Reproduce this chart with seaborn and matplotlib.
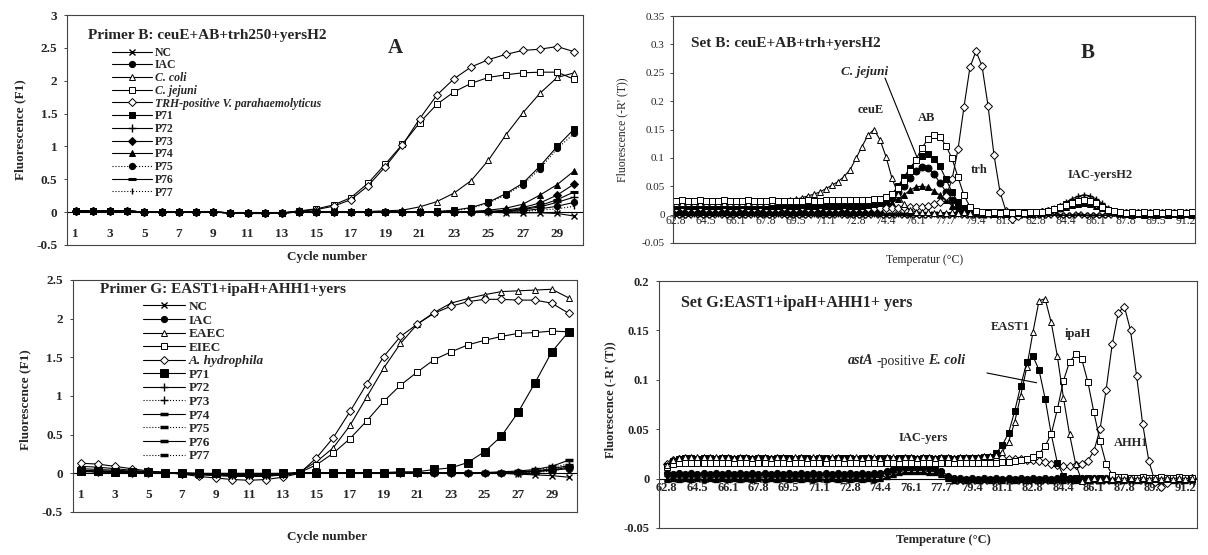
import numpy as np
import pandas as pd
import matplotlib
matplotlib.use("Agg")
import matplotlib.pyplot as plt
import seaborn as sns

sns.set_style("white")
plt.rcParams["font.family"] = ["Liberation Serif", "DejaVu Serif"]

W, H = 1208, 555

# ---------------- amplification data (cycles 1..30) ----------------
cycles = list(range(1, 31))
cycle_ticks = list(range(1, 30, 2))

# primer set B
amp_b_nc = [0.02, 0.02, 0.02, 0.02, 0.00, 0.00, 0.00, 0.00, 0.00, -0.01, -0.02, -0.02, -0.01, 0.00, 0.00,
            0.00, 0.00, 0.00, 0.00, 0.00, 0.00, 0.00, 0.00, 0.00, 0.00, -0.01, -0.01, -0.01, -0.02, -0.06]
amp_b_iac = [0.02, 0.02, 0.02, 0.02, 0.00, 0.00, 0.00, 0.00, 0.00, -0.01, -0.02, -0.02, -0.01, 0.00, 0.00,
             0.00, 0.00, 0.00, 0.00, 0.00, 0.00, 0.00, 0.00, 0.00, 0.01, 0.01, 0.02, 0.05, 0.09, 0.15]
amp_b_coli = [0.01, 0.01, 0.01, 0.01, 0.00, 0.00, 0.00, 0.00, 0.00, -0.01, -0.01, -0.01, -0.01, 0.00, 0.00,
              0.00, 0.00, 0.01, 0.02, 0.03, 0.08, 0.16, 0.29, 0.48, 0.79, 1.17, 1.51, 1.81, 2.05, 2.12]
amp_b_jejuni = [0.01, 0.01, 0.01, 0.01, 0.00, 0.00, 0.00, 0.00, 0.00, -0.01, -0.01, -0.01, -0.01, 0.02, 0.05,
                0.11, 0.22, 0.44, 0.73, 1.03, 1.36, 1.64, 1.83, 1.96, 2.05, 2.09, 2.12, 2.13, 2.13, 2.02]
amp_b_trh = [0.01, 0.01, 0.01, 0.01, 0.00, 0.00, 0.00, 0.00, 0.00, -0.01, -0.01, -0.01, -0.01, 0.01, 0.04,
             0.09, 0.19, 0.40, 0.69, 1.02, 1.42, 1.78, 2.03, 2.21, 2.32, 2.40, 2.46, 2.48, 2.52, 2.44]
amp_b_p71 = [0.02, 0.02, 0.02, 0.02, 0.00, 0.00, 0.00, 0.00, 0.00, -0.01, -0.02, -0.02, -0.01, 0.00, 0.00,
             0.00, 0.00, 0.00, 0.00, 0.00, 0.00, 0.01, 0.03, 0.07, 0.15, 0.28, 0.44, 0.70, 1.00, 1.27]
amp_b_p72 = [0.02, 0.02, 0.02, 0.02, 0.00, 0.00, 0.00, 0.00, 0.00, -0.01, -0.02, -0.02, -0.01, 0.00, 0.00,
             0.00, 0.00, 0.00, 0.00, 0.00, 0.00, 0.00, 0.00, 0.00, 0.00, 0.01, 0.04, 0.08, 0.15, 0.23]
amp_b_p73 = [0.02, 0.02, 0.02, 0.02, 0.00, 0.00, 0.00, 0.00, 0.00, -0.01, -0.02, -0.02, -0.01, 0.00, 0.00,
             0.00, 0.00, 0.00, 0.00, 0.00, 0.00, 0.00, 0.00, 0.00, 0.01, 0.03, 0.07, 0.14, 0.26, 0.43]
amp_b_p74 = [0.02, 0.02, 0.02, 0.02, 0.00, 0.00, 0.00, 0.00, 0.00, -0.01, -0.02, -0.02, -0.01, 0.00, 0.00,
             0.00, 0.00, 0.00, 0.00, 0.00, 0.00, 0.00, 0.00, 0.01, 0.03, 0.06, 0.12, 0.26, 0.42, 0.63]
amp_b_p75 = [0.02, 0.02, 0.02, 0.02, 0.00, 0.00, 0.00, 0.00, 0.00, -0.01, -0.02, -0.02, -0.01, 0.00, 0.00,
             0.00, 0.00, 0.00, 0.00, 0.00, 0.00, 0.01, 0.02, 0.06, 0.14, 0.26, 0.42, 0.66, 0.97, 1.20]
amp_b_p76 = [0.02, 0.02, 0.02, 0.02, 0.00, 0.00, 0.00, 0.00, 0.00, -0.01, -0.02, -0.02, -0.01, 0.00, 0.00,
             0.00, 0.00, 0.00, 0.00, 0.00, 0.00, 0.00, 0.00, 0.00, 0.00, 0.02, 0.05, 0.10, 0.19, 0.31]
amp_b_p77 = [0.02, 0.02, 0.02, 0.02, 0.00, 0.00, 0.00, 0.00, 0.00, -0.01, -0.02, -0.02, -0.01, 0.00, 0.00,
             0.00, 0.00, 0.00, 0.00, 0.00, 0.00, 0.00, 0.00, 0.00, 0.00, 0.00, 0.01, 0.03, 0.05, 0.09]

# primer set G
amp_g_nc = [0.02, 0.02, 0.01, 0.01, 0.01, 0.00, 0.00, -0.01, -0.01, -0.01, -0.01, -0.01, -0.01, 0.00, 0.00,
            0.00, 0.00, 0.00, 0.00, 0.00, 0.00, 0.00, 0.00, 0.00, 0.00, 0.00, -0.01, -0.02, -0.03, -0.05]
amp_g_iac = [0.04, 0.03, 0.03, 0.02, 0.02, 0.01, 0.00, 0.00, -0.01, -0.01, -0.01, -0.01, 0.00, 0.00, 0.00,
             0.00, 0.00, 0.00, 0.00, 0.00, 0.00, 0.00, 0.00, 0.00, 0.01, 0.01, 0.02, 0.03, 0.04, 0.06]
amp_g_eaec = [0.09, 0.08, 0.06, 0.04, 0.02, 0.01, -0.01, -0.02, -0.03, -0.04, -0.04, -0.04, -0.02, 0.02, 0.15,
              0.33, 0.62, 0.99, 1.36, 1.68, 1.93, 2.08, 2.20, 2.26, 2.31, 2.35, 2.36, 2.37, 2.38, 2.27]
amp_g_eiec = [0.06, 0.05, 0.04, 0.03, 0.02, 0.01, 0.00, -0.01, -0.02, -0.03, -0.03, -0.03, -0.02, 0.01, 0.11,
              0.26, 0.45, 0.68, 0.93, 1.14, 1.31, 1.47, 1.57, 1.66, 1.72, 1.77, 1.81, 1.82, 1.84, 1.83]
amp_g_ahyd = [0.13, 0.12, 0.09, 0.06, 0.03, 0.01, -0.01, -0.04, -0.06, -0.08, -0.09, -0.08, -0.05, 0.00, 0.20,
              0.46, 0.80, 1.16, 1.51, 1.77, 1.93, 2.07, 2.16, 2.22, 2.25, 2.25, 2.24, 2.24, 2.20, 2.07]
amp_g_p71 = [0.03, 0.03, 0.02, 0.02, 0.02, 0.01, 0.01, 0.00, 0.00, 0.00, 0.00, 0.00, 0.00, 0.01, 0.01,
             0.01, 0.01, 0.01, 0.01, 0.02, 0.02, 0.05, 0.07, 0.14, 0.28, 0.48, 0.79, 1.17, 1.57, 1.83]
amp_g_p72 = [0.03, 0.02, 0.02, 0.01, 0.01, 0.00, 0.00, -0.01, -0.01, -0.02, -0.02, -0.02, -0.01, 0.00, 0.00,
             0.00, 0.00, 0.00, 0.00, 0.00, 0.00, 0.00, 0.00, 0.00, 0.00, 0.00, 0.01, 0.03, 0.06, 0.10]
amp_g_p73 = [0.03, 0.02, 0.02, 0.01, 0.01, 0.00, 0.00, -0.01, -0.01, -0.02, -0.02, -0.02, -0.01, 0.00, 0.00,
             0.00, 0.00, 0.00, 0.00, 0.00, 0.00, 0.00, 0.00, 0.00, 0.00, 0.01, 0.02, 0.04, 0.08, 0.12]
amp_g_p74 = [0.03, 0.02, 0.02, 0.01, 0.01, 0.00, 0.00, -0.01, -0.01, -0.02, -0.02, -0.02, -0.01, 0.00, 0.00,
             0.01, 0.01, 0.01, 0.01, 0.01, 0.01, 0.01, 0.01, 0.01, 0.01, 0.02, 0.03, 0.05, 0.09, 0.17]
amp_g_p75 = [0.03, 0.02, 0.02, 0.01, 0.01, 0.00, 0.00, -0.01, -0.01, -0.02, -0.02, -0.02, -0.01, 0.00, 0.00,
             0.00, 0.00, 0.00, 0.00, 0.00, 0.00, 0.00, 0.00, 0.00, 0.00, 0.00, 0.01, 0.02, 0.05, 0.09]
amp_g_p76 = [0.03, 0.02, 0.02, 0.01, 0.01, 0.00, 0.00, -0.01, -0.01, -0.02, -0.02, -0.02, -0.01, 0.00, 0.00,
             0.00, 0.00, 0.00, 0.00, 0.00, 0.00, 0.00, 0.00, 0.00, 0.00, 0.00, 0.01, 0.02, 0.04, 0.08]
amp_g_p77 = [0.03, 0.02, 0.02, 0.01, 0.01, 0.00, 0.00, -0.01, -0.01, -0.02, -0.02, -0.02, -0.01, 0.00, 0.00,
             0.00, 0.00, 0.00, 0.00, 0.00, 0.00, 0.00, 0.00, 0.00, 0.00, 0.00, 0.00, 0.01, 0.03, 0.07]

# ---------------- melt curve data (87 temperature steps) ----------------
melt_ticks = ["62.8", "64.5", "66.1", "67.8", "69.5", "71.1", "72.8", "74.4", "76.1",
              "77.7", "79.4", "81.1", "82.8", "84.4", "86.1", "87.8", "89.5", "91.2"]

# set B
coli_melt = [
    0.020, 0.021, 0.020, 0.020, 0.021, 0.020, 0.020, 0.021, 0.020, 0.020,
    0.020, 0.021, 0.020, 0.021, 0.021, 0.021, 0.022, 0.022, 0.023, 0.025,
    0.027, 0.030, 0.033, 0.036, 0.040, 0.046, 0.052, 0.058, 0.067, 0.079,
    0.099, 0.120, 0.140, 0.150, 0.132, 0.102, 0.064, 0.037, 0.018, 0.008,
    0.005, 0.004, 0.004, 0.003, 0.004, 0.003, 0.004, 0.003, 0.004, 0.003,
    0.004, 0.003, 0.004, 0.003, 0.003, 0.004, 0.003, 0.004, 0.003, 0.004,
    0.004, 0.005, 0.007, 0.010, 0.014, 0.018, 0.022, 0.025, 0.026, 0.025,
    0.021, 0.015, 0.010, 0.006, 0.004, 0.003, 0.004, 0.003, 0.004, 0.003,
    0.004, 0.003, 0.004, 0.003, 0.004, 0.003, 0.004]
jejuni_melt = [
    0.024, 0.025, 0.024, 0.024, 0.025, 0.024, 0.024, 0.024, 0.025, 0.024,
    0.024, 0.024, 0.025, 0.024, 0.024, 0.024, 0.025, 0.024, 0.024, 0.024,
    0.024, 0.024, 0.025, 0.024, 0.024, 0.025, 0.025, 0.025, 0.025, 0.025,
    0.025, 0.026, 0.026, 0.027, 0.028, 0.031, 0.037, 0.047, 0.060, 0.077,
    0.097, 0.118, 0.133, 0.141, 0.137, 0.121, 0.099, 0.066, 0.034, 0.014,
    0.006, 0.004, 0.003, 0.004, 0.003, 0.004, 0.003, 0.004, 0.003, 0.004,
    0.004, 0.005, 0.007, 0.010, 0.013, 0.017, 0.021, 0.024, 0.025, 0.024,
    0.020, 0.014, 0.009, 0.006, 0.004, 0.003, 0.004, 0.003, 0.004, 0.003,
    0.004, 0.003, 0.004, 0.003, 0.004, 0.003, 0.004]
trh_melt = [
    0.012, 0.013, 0.012, 0.012, 0.013, 0.012, 0.012, 0.012, 0.013, 0.012,
    0.012, 0.013, 0.012, 0.012, 0.013, 0.012, 0.012, 0.012, 0.013, 0.012,
    0.012, 0.013, 0.012, 0.012, 0.013, 0.012, 0.012, 0.012, 0.013, 0.012,
    0.012, 0.012, 0.012, 0.012, 0.012, 0.012, 0.012, 0.012, 0.013, 0.013,
    0.013, 0.014, 0.016, 0.018, 0.022, 0.032, 0.062, 0.115, 0.190, 0.260,
    0.288, 0.262, 0.192, 0.105, 0.040, 0.006, -0.008, -0.002, 0.002, 0.003,
    0.003, 0.004, 0.006, 0.009, 0.013, 0.017, 0.021, 0.024, 0.025, 0.024,
    0.019, 0.014, 0.009, 0.005, 0.003, 0.003, 0.002, 0.003, 0.002, 0.003,
    0.002, 0.003, 0.002, 0.003, 0.002, 0.003, 0.002]
p71_melt_b = [
    0.016, 0.017, 0.016, 0.016, 0.017, 0.016, 0.016, 0.016, 0.017, 0.016,
    0.016, 0.017, 0.016, 0.016, 0.017, 0.016, 0.016, 0.016, 0.017, 0.016,
    0.016, 0.017, 0.016, 0.016, 0.017, 0.016, 0.016, 0.016, 0.017, 0.016,
    0.016, 0.016, 0.017, 0.018, 0.020, 0.027, 0.036, 0.050, 0.066, 0.082,
    0.096, 0.104, 0.106, 0.098, 0.085, 0.062, 0.040, 0.022, 0.011, 0.006,
    0.004, 0.003, 0.004, 0.003, 0.004, 0.003, 0.004, 0.003, 0.004, 0.003,
    0.004, 0.005, 0.007, 0.010, 0.014, 0.018, 0.021, 0.023, 0.024, 0.023,
    0.020, 0.014, 0.009, 0.005, 0.003, 0.003, 0.002, 0.003, 0.002, 0.003,
    0.002, 0.003, 0.002, 0.003, 0.002, 0.003, 0.002]
p73_melt_b = [
    0.008, 0.009, 0.008, 0.008, 0.009, 0.008, 0.008, 0.009, 0.008, 0.008,
    0.008, 0.009, 0.008, 0.008, 0.009, 0.008, 0.008, 0.009, 0.008, 0.008,
    0.008, 0.009, 0.008, 0.008, 0.009, 0.008, 0.008, 0.009, 0.008, 0.008,
    0.008, 0.009, 0.009, 0.010, 0.014, 0.020, 0.029, 0.039, 0.051, 0.065,
    0.077, 0.084, 0.082, 0.071, 0.056, 0.040, 0.025, 0.013, 0.006, 0.004,
    0.003, 0.002, 0.003, 0.002, 0.003, 0.002, 0.003, 0.002, 0.003, 0.002,
    0.003, 0.004, 0.006, 0.009, 0.012, 0.016, 0.019, 0.021, 0.022, 0.021,
    0.018, 0.013, 0.008, 0.005, 0.003, 0.002, 0.001, 0.002, 0.001, 0.002,
    0.001, 0.002, 0.001, 0.002, 0.001, 0.002, 0.001]
p74_melt_b = [
    0.004, 0.005, 0.004, 0.004, 0.005, 0.004, 0.004, 0.005, 0.004, 0.004,
    0.004, 0.005, 0.004, 0.004, 0.005, 0.004, 0.004, 0.005, 0.004, 0.004,
    0.004, 0.005, 0.004, 0.004, 0.005, 0.004, 0.004, 0.005, 0.004, 0.004,
    0.004, 0.004, 0.005, 0.006, 0.010, 0.015, 0.021, 0.028, 0.035, 0.043,
    0.049, 0.050, 0.048, 0.042, 0.034, 0.025, 0.016, 0.009, 0.005, 0.003,
    0.002, 0.001, 0.002, 0.001, 0.002, 0.001, 0.002, 0.001, 0.002, 0.001,
    0.002, 0.003, 0.005, 0.008, 0.011, 0.014, 0.017, 0.019, 0.020, 0.019,
    0.016, 0.012, 0.008, 0.004, 0.002, 0.001, 0.000, 0.001, 0.000, 0.001,
    0.000, 0.001, 0.000, 0.001, 0.000, 0.001, 0.000]
iac_melt_b = [
    0.002, 0.001, 0.002, 0.001, 0.002, 0.001, 0.002, 0.001, 0.002, 0.001,
    0.002, 0.001, 0.002, 0.001, 0.002, 0.001, 0.002, 0.001, 0.002, 0.001,
    0.002, 0.001, 0.002, 0.001, 0.002, 0.001, 0.002, 0.001, 0.002, 0.001,
    0.002, 0.001, 0.002, 0.001, 0.002, 0.001, 0.002, 0.001, 0.002, 0.001,
    0.002, 0.001, 0.002, 0.001, 0.002, 0.001, 0.002, 0.001, 0.002, 0.001,
    0.002, 0.001, 0.002, 0.001, 0.002, 0.001, 0.002, 0.001, 0.002, 0.001,
    0.002, 0.004, 0.007, 0.011, 0.016, 0.022, 0.028, 0.032, 0.035, 0.033,
    0.028, 0.020, 0.012, 0.007, 0.004, 0.002, 0.001, 0.002, 0.001, 0.002,
    0.001, 0.002, 0.001, 0.002, 0.001, 0.002, 0.001]
nc_melt_b = [
    0.000, -0.001, 0.000, 0.001, 0.000, -0.001, 0.000, 0.001, 0.000, -0.001,
    0.000, -0.001, 0.000, 0.001, 0.000, -0.001, 0.000, 0.001, 0.000, -0.001,
    0.000, -0.001, 0.000, 0.001, 0.000, -0.001, 0.000, 0.001, 0.000, -0.001,
    0.000, -0.001, 0.000, 0.001, 0.000, -0.001, 0.000, 0.001, 0.000, -0.001,
    0.000, -0.001, 0.000, 0.001, 0.000, -0.001, 0.000, 0.001, 0.000, -0.001,
    0.000, -0.001, 0.000, 0.001, 0.000, -0.001, 0.000, 0.001, 0.000, -0.001,
    0.000, -0.001, 0.000, 0.001, 0.000, -0.001, 0.000, 0.001, 0.000, -0.001,
    0.000, -0.001, 0.000, 0.001, 0.000, -0.001, 0.000, 0.001, 0.000, -0.001,
    0.000, -0.001, 0.000, 0.001, 0.000, -0.001, 0.000]

# set G
eaec_melt = [
    0.014, 0.019, 0.021, 0.022, 0.022, 0.022, 0.022, 0.022, 0.022, 0.022,
    0.022, 0.021, 0.022, 0.022, 0.021, 0.022, 0.022, 0.021, 0.022, 0.022,
    0.021, 0.022, 0.022, 0.021, 0.022, 0.022, 0.021, 0.022, 0.022, 0.021,
    0.022, 0.022, 0.021, 0.022, 0.022, 0.021, 0.022, 0.022, 0.021, 0.022,
    0.022, 0.021, 0.022, 0.022, 0.021, 0.022, 0.022, 0.021, 0.022, 0.022,
    0.022, 0.022, 0.023, 0.023, 0.024, 0.027, 0.037, 0.057, 0.084, 0.113,
    0.148, 0.180, 0.182, 0.158, 0.124, 0.082, 0.045, 0.015, -0.002, 0.000,
    0.001, 0.000, 0.001, 0.000, 0.001, 0.000, 0.001, 0.000, 0.001, 0.000,
    0.001, 0.000, 0.001, 0.000, 0.001, 0.000, 0.001]
p71_melt_g = [
    0.013, 0.018, 0.020, 0.021, 0.021, 0.020, 0.021, 0.021, 0.020, 0.021,
    0.021, 0.020, 0.021, 0.021, 0.020, 0.021, 0.021, 0.020, 0.021, 0.021,
    0.021, 0.020, 0.021, 0.021, 0.020, 0.021, 0.021, 0.020, 0.021, 0.021,
    0.021, 0.020, 0.021, 0.021, 0.020, 0.021, 0.021, 0.020, 0.021, 0.021,
    0.021, 0.020, 0.021, 0.021, 0.020, 0.021, 0.021, 0.020, 0.021, 0.021,
    0.021, 0.021, 0.022, 0.022, 0.026, 0.034, 0.046, 0.068, 0.094, 0.118,
    0.124, 0.110, 0.081, 0.045, 0.016, 0.003, 0.000, 0.001, 0.000, 0.001,
    0.000, 0.001, 0.000, 0.001, 0.000, 0.001, 0.000, 0.001, 0.000, 0.001,
    0.000, 0.001, 0.000, 0.001, 0.000, 0.001, 0.000]
eiec_melt = [
    0.012, 0.015, 0.016, 0.016, 0.016, 0.016, 0.016, 0.016, 0.016, 0.016,
    0.016, 0.016, 0.016, 0.016, 0.016, 0.016, 0.016, 0.016, 0.016, 0.016,
    0.016, 0.016, 0.016, 0.016, 0.016, 0.016, 0.016, 0.016, 0.016, 0.016,
    0.016, 0.016, 0.016, 0.016, 0.016, 0.016, 0.016, 0.016, 0.016, 0.016,
    0.016, 0.016, 0.016, 0.016, 0.016, 0.016, 0.016, 0.016, 0.016, 0.016,
    0.016, 0.016, 0.016, 0.016, 0.016, 0.017, 0.017, 0.018, 0.019, 0.020,
    0.022, 0.025, 0.033, 0.045, 0.070, 0.099, 0.118, 0.126, 0.121, 0.098,
    0.067, 0.038, 0.015, 0.004, 0.002, 0.002, 0.001, 0.001, 0.002, 0.001,
    0.001, 0.002, 0.001, 0.001, 0.002, 0.001, 0.001]
ahyd_melt = [
    0.015, 0.019, 0.020, 0.020, 0.019, 0.020, 0.020, 0.019, 0.020, 0.020,
    0.019, 0.020, 0.020, 0.019, 0.020, 0.020, 0.019, 0.020, 0.020, 0.019,
    0.020, 0.020, 0.019, 0.020, 0.020, 0.019, 0.020, 0.020, 0.019, 0.020,
    0.020, 0.019, 0.020, 0.020, 0.019, 0.020, 0.020, 0.019, 0.020, 0.020,
    0.019, 0.020, 0.020, 0.019, 0.020, 0.020, 0.019, 0.020, 0.020, 0.019,
    0.020, 0.020, 0.021, 0.021, 0.021, 0.021, 0.020, 0.020, 0.020, 0.019,
    0.019, 0.018, 0.017, 0.015, 0.014, 0.013, 0.013, 0.014, 0.015, 0.018,
    0.028, 0.050, 0.090, 0.136, 0.168, 0.174, 0.150, 0.104, 0.055, 0.018,
    -0.003, -0.008, -0.004, 0.000, 0.001, 0.000, 0.001]
iac_melt_g = [
    0.006, 0.005, 0.006, 0.005, 0.006, 0.005, 0.006, 0.005, 0.006, 0.005,
    0.006, 0.005, 0.006, 0.005, 0.006, 0.005, 0.006, 0.005, 0.006, 0.005,
    0.006, 0.005, 0.006, 0.005, 0.006, 0.005, 0.006, 0.005, 0.006, 0.005,
    0.006, 0.005, 0.006, 0.005, 0.006, 0.006, 0.008, 0.010, 0.012, 0.012,
    0.012, 0.013, 0.012, 0.012, 0.011, 0.008, 0.003, 0.001, 0.001, 0.000,
    0.001, 0.000, 0.001, 0.000, 0.001, 0.000, 0.001, 0.000, 0.001, 0.000,
    0.001, 0.000, 0.001, 0.000, 0.001, 0.000, 0.001, 0.000, 0.001, 0.000,
    0.001, 0.000, 0.001, 0.000, 0.001, 0.000, 0.001, 0.000, 0.001, 0.000,
    0.001, 0.000, 0.001, 0.000, 0.001, 0.000, 0.001]
p72_melt_g = [
    0.003, 0.004, 0.003, 0.004, 0.003, 0.004, 0.003, 0.004, 0.003, 0.004,
    0.003, 0.004, 0.003, 0.004, 0.003, 0.004, 0.003, 0.004, 0.003, 0.004,
    0.003, 0.004, 0.003, 0.004, 0.003, 0.004, 0.003, 0.004, 0.003, 0.004,
    0.003, 0.004, 0.003, 0.004, 0.003, 0.004, 0.006, 0.008, 0.010, 0.010,
    0.010, 0.010, 0.010, 0.010, 0.009, 0.006, 0.001, -0.001, 0.000, -0.001,
    0.000, -0.001, 0.000, -0.001, 0.000, -0.001, 0.000, -0.001, 0.000, -0.001,
    0.000, -0.001, 0.000, -0.001, 0.000, -0.001, 0.000, -0.001, 0.000, -0.001,
    0.000, -0.001, 0.000, -0.001, 0.000, -0.001, 0.000, -0.001, 0.000, -0.001,
    0.000, -0.001, 0.000, -0.001, 0.000, -0.001, 0.000]
nc_melt_g = [
    0.001, 0.000, 0.001, 0.000, 0.001, 0.000, 0.001, 0.000, 0.001, 0.000,
    0.001, 0.000, 0.001, 0.000, 0.001, 0.000, 0.001, 0.000, 0.001, 0.000,
    0.001, 0.000, 0.001, 0.000, 0.001, 0.000, 0.001, 0.000, 0.001, 0.000,
    0.001, 0.000, 0.001, 0.000, 0.001, 0.001, 0.003, 0.005, 0.007, 0.008,
    0.008, 0.008, 0.008, 0.007, 0.007, 0.005, 0.001, -0.002, -0.002, -0.001,
    -0.002, -0.001, -0.002, -0.001, -0.002, -0.001, -0.002, -0.001, -0.002, -0.001,
    -0.002, -0.001, -0.002, -0.001, -0.002, -0.001, -0.002, -0.001, -0.002, -0.001,
    -0.002, -0.001, -0.002, -0.001, -0.002, -0.001, -0.002, -0.001, -0.002, -0.001,
    -0.002, -0.001, -0.002, -0.001, -0.002, -0.001, -0.002]
p74_melt_g = [
    -0.002, -0.001, -0.002, -0.001, -0.002, -0.001, -0.002, -0.001, -0.002, -0.001,
    -0.002, -0.001, -0.002, -0.001, -0.002, -0.001, -0.002, -0.001, -0.002, -0.001,
    -0.002, -0.001, -0.002, -0.001, -0.002, -0.001, -0.002, -0.001, -0.002, -0.001,
    -0.002, -0.001, -0.002, -0.001, -0.002, -0.001, 0.001, 0.003, 0.005, 0.006,
    0.006, 0.006, 0.006, 0.005, 0.005, 0.003, -0.001, -0.003, -0.002, -0.003,
    -0.002, -0.003, -0.002, -0.003, -0.002, -0.003, -0.002, -0.003, -0.002, -0.003,
    -0.002, -0.003, -0.002, -0.003, -0.002, -0.003, -0.002, -0.003, -0.002, -0.003,
    -0.002, -0.003, -0.002, -0.003, -0.002, -0.003, -0.002, -0.003, -0.002, -0.003,
    -0.002, -0.003, -0.002, -0.003, -0.002, -0.003, -0.002]


def fig_xy(x, y):
    return x / W, 1 - y / H


def add_series(ax, x, y, marker, filled=True, ms=4, ls="-", lw=0.8, mew=0.7, label=None):
    sns.lineplot(x=x, y=y, ax=ax, color="black", marker=marker, markersize=ms,
                 markerfacecolor="black" if filled else "white",
                 markeredgecolor="black", markeredgewidth=mew,
                 linestyle=ls, linewidth=lw, errorbar=None, estimator=None,
                 legend=False)
    line = ax.lines[-1]
    if label is not None:
        line.set_label(label)
    return line


def style_axes(ax, ylim, yticks, xlim, xticks, xlabels, size, bold, xpad, ypad):
    ax.set_xlim(*xlim)
    ax.set_ylim(*ylim)
    ax.set_yticks(yticks)
    ax.set_yticklabels([("%g" % v) for v in yticks])
    ax.set_xticks(xticks)
    ax.set_xticklabels(xlabels)
    ax.tick_params(axis="x", length=0, pad=xpad, labelsize=size)
    ax.tick_params(axis="y", length=2, width=0.6, pad=ypad, labelsize=size, left=True)
    for lbl in ax.get_xticklabels() + ax.get_yticklabels():
        lbl.set_fontweight("bold" if bold else "normal")
    ax.axhline(0, color="black", lw=0.8, zorder=1)
    ax.set_xlabel("")
    ax.set_ylabel("")
    for sp in ax.spines.values():
        sp.set_color("#444444")
        sp.set_linewidth(0.8)


def mixed_text(x, y, parts, size):
    # pieces of one label drawn side by side, each with its own style
    renderer = fig.canvas.get_renderer()
    cur = x
    for s, style, weight, gap in parts:
        t = fig.text(cur / W, 1 - y / H, s, fontsize=size, fontstyle=style,
                     fontweight=weight, ha="left", va="center")
        cur += t.get_window_extent(renderer=renderer).width + gap


fig = plt.figure(figsize=(W / 100, H / 100), dpi=100)

ax_a = fig.add_axes([67 / W, 1 - 245 / H, 516 / W, 230 / H])
ax_b = fig.add_axes([673 / W, 1 - 243 / H, 522 / W, 227 / H])
ax_c = fig.add_axes([72.7 / W, 1 - 512 / H, 504.3 / W, 232 / H])
ax_g = fig.add_axes([659 / W, 1 - 528 / H, 538 / W, 247 / H])

# ---------------- panel A: amplification, primer B ----------------
hA = []
hA.append(add_series(ax_a, cycles, amp_b_nc, "x", ms=5, mew=1.0, label="NC"))
hA.append(add_series(ax_a, cycles, amp_b_iac, "o", ms=4.5, label="IAC"))
hA.append(add_series(ax_a, cycles, amp_b_coli, "^", filled=False, ms=5, label="C. coli"))
hA.append(add_series(ax_a, cycles, amp_b_jejuni, "s", filled=False, ms=5, label="C. jejuni"))
hA.append(add_series(ax_a, cycles, amp_b_trh, "D", filled=False, ms=4.5,
                     label="TRH-positive V. parahaemolyticus"))
hA.append(add_series(ax_a, cycles, amp_b_p71, "s", ms=5, label="P71"))
hA.append(add_series(ax_a, cycles, amp_b_p72, "+", ms=6, mew=1.0, label="P72"))
hA.append(add_series(ax_a, cycles, amp_b_p73, "D", ms=4, label="P73"))
hA.append(add_series(ax_a, cycles, amp_b_p74, "^", ms=5, label="P74"))
hA.append(add_series(ax_a, cycles, amp_b_p75, "o", ms=4.5, ls=":", label="P75"))
hA.append(add_series(ax_a, cycles, amp_b_p76, "_", ms=6, mew=2.2, label="P76"))
hA.append(add_series(ax_a, cycles, amp_b_p77, "|", ms=4, mew=1.0, ls=":", label="P77"))

style_axes(ax_a, (-0.5, 3), [-0.5, 0, 0.5, 1, 1.5, 2, 2.5, 3], (0.5, 30.5),
           cycle_ticks, [str(c) for c in cycle_ticks], 9.5, True, -12.5, 5)

leg = ax_a.legend(handles=hA, loc="upper left", bbox_to_anchor=(0.087, 0.862),
                  frameon=False, prop={"weight": "bold", "size": 8.5},
                  labelspacing=0.06, handlelength=3.4, handletextpad=0.25,
                  borderpad=0, borderaxespad=0)
for t in leg.get_texts():
    if t.get_text() in ("C. coli", "C. jejuni", "TRH-positive V. parahaemolyticus"):
        t.set_fontstyle("italic")

fig.text(*fig_xy(88, 35), "Primer B: ceuE+AB+trh250+yersH2", fontsize=11,
         fontweight="bold", ha="left", va="center")
fig.text(*fig_xy(395, 48), "A", fontsize=15, fontweight="bold", ha="center", va="center")
fig.text(*fig_xy(20, 130), "Fluorescence (F1)", fontsize=9.5, fontweight="bold",
         rotation=90, ha="center", va="center")
fig.text(*fig_xy(327, 257), "Cycle number", fontsize=9.5, fontweight="bold",
         ha="center", va="center")

# ---------------- panel C: amplification, primer G ----------------
hC = []
hC.append(add_series(ax_c, cycles, amp_g_nc, "x", ms=5, mew=1.0, label="NC"))
hC.append(add_series(ax_c, cycles, amp_g_iac, "o", ms=4.5, label="IAC"))
hC.append(add_series(ax_c, cycles, amp_g_eaec, "^", filled=False, ms=5, label="EAEC"))
hC.append(add_series(ax_c, cycles, amp_g_eiec, "s", filled=False, ms=5, label="EIEC"))
hC.append(add_series(ax_c, cycles, amp_g_ahyd, "D", filled=False, ms=3.8, label="A. hydrophila"))
hC.append(add_series(ax_c, cycles, amp_g_p71, "s", ms=5.5, label="P71"))
hC.append(add_series(ax_c, cycles, amp_g_p72, "+", ms=6, mew=1.0, label="P72"))
hC.append(add_series(ax_c, cycles, amp_g_p73, "+", ms=6, mew=1.0, ls=":", label="P73"))
hC.append(add_series(ax_c, cycles, amp_g_p74, "_", ms=6, mew=2.5, label="P74"))
hC.append(add_series(ax_c, cycles, amp_g_p75, "_", ms=6, mew=2.5, ls=":", label="P75"))
hC.append(add_series(ax_c, cycles, amp_g_p76, "_", ms=6, mew=2.5, label="P76"))
hC.append(add_series(ax_c, cycles, amp_g_p77, "_", ms=6, mew=2.5, ls=":", label="P77"))

style_axes(ax_c, (-0.5, 2.5), [-0.5, 0, 0.5, 1, 1.5, 2, 2.5], (0.5, 30.5),
           cycle_ticks, [str(c) for c in cycle_ticks], 9.5, True, -16.5, 5)

leg = ax_c.legend(handles=hC, loc="upper left", bbox_to_anchor=(0.139, 0.91),
                  frameon=False, prop={"weight": "bold", "size": 9.5},
                  labelspacing=0.1, handlelength=3.2, handletextpad=0.25,
                  borderpad=0, borderaxespad=0)
for t in leg.get_texts():
    if t.get_text() == "A. hydrophila":
        t.set_fontstyle("italic")

fig.text(*fig_xy(100, 290), "Primer G: EAST1+ipaH+AHH1+yers", fontsize=11,
         fontweight="bold", ha="left", va="center")
fig.text(*fig_xy(25, 400), "Fluorescence (F1)", fontsize=9.5, fontweight="bold",
         rotation=90, ha="center", va="center")
fig.text(*fig_xy(327, 537), "Cycle number", fontsize=9.5, fontweight="bold",
         ha="center", va="center")

# ---------------- panel B: melt curves, set B ----------------
melt_x = np.arange(len(coli_melt))
melt_tick_pos = list(range(0, len(coli_melt), 5))[:len(melt_ticks)]

add_series(ax_b, melt_x, nc_melt_b, "x", ms=4, mew=1.0)
add_series(ax_b, melt_x, iac_melt_b, "+", ms=4.5, mew=1.0)
add_series(ax_b, melt_x, p74_melt_b, "^", ms=5)
add_series(ax_b, melt_x, p73_melt_b, "o", ms=5)
add_series(ax_b, melt_x, trh_melt, "D", filled=False, ms=3.8)
add_series(ax_b, melt_x, p71_melt_b, "s", ms=4.8)
add_series(ax_b, melt_x, coli_melt, "^", filled=False, ms=4.5)
add_series(ax_b, melt_x, jejuni_melt, "s", filled=False, ms=4.3)

style_axes(ax_b, (-0.05, 0.35), [-0.05, 0, 0.05, 0.1, 0.15, 0.2, 0.25, 0.3, 0.35],
           (-0.5, 86.5), melt_tick_pos, melt_ticks, 8.5, False, -20.5, 4)
for lbl in ax_b.get_yticklabels():
    lbl.set_fontsize(8)

fig.text(*fig_xy(691, 43), "Set B: ceuE+AB+trh+yersH2", fontsize=11,
         fontweight="bold", ha="left", va="center")
fig.text(*fig_xy(1088, 53), "B", fontsize=15, fontweight="bold", ha="center", va="center")
fig.text(*fig_xy(865, 72), "C. jejuni", fontsize=9.5, fontweight="bold",
         fontstyle="italic", ha="center", va="center")
fig.text(*fig_xy(871, 110), "ceuE", fontsize=9, fontweight="bold", ha="center", va="center")
fig.text(*fig_xy(927, 118), "AB", fontsize=9, fontweight="bold", ha="center", va="center")
fig.text(*fig_xy(979, 170), "trh", fontsize=9, fontweight="bold", ha="center", va="center")
fig.text(*fig_xy(1100, 175), "IAC-yersH2", fontsize=9, fontweight="bold",
         ha="center", va="center")
ax_b.annotate("", xy=(40.2, 0.100), xytext=fig_xy(885, 78), textcoords="figure fraction",
              arrowprops=dict(arrowstyle="-", lw=0.8, color="black", shrinkA=0, shrinkB=0))
fig.text(*fig_xy(622, 130), "Fluorescence (-R' (T))", fontsize=8.5,
         rotation=90, ha="center", va="center")
fig.text(*fig_xy(925, 260), "Temperatur (°C)", fontsize=8.5, ha="center", va="center")

# ---------------- panel G: melt curves, set G ----------------
add_series(ax_g, melt_x, p74_melt_g, "_", ms=5, mew=2.4)
add_series(ax_g, melt_x, nc_melt_g, "x", ms=4, mew=1.0)
add_series(ax_g, melt_x, p72_melt_g, "+", ms=4.5, mew=1.0)
add_series(ax_g, melt_x, iac_melt_g, "o", ms=4.5)
add_series(ax_g, melt_x, ahyd_melt, "D", filled=False, ms=3.8)
add_series(ax_g, melt_x, p71_melt_g, "s", ms=5)
add_series(ax_g, melt_x, eiec_melt, "s", filled=False, ms=4.3)
add_series(ax_g, melt_x, eaec_melt, "^", filled=False, ms=4.5)

style_axes(ax_g, (-0.05, 0.2), [-0.05, 0, 0.05, 0.1, 0.15, 0.2],
           (-1.3, 86.9), melt_tick_pos, melt_ticks, 9, True, -33, 5)

fig.text(*fig_xy(681, 303), "Set G:EAST1+ipaH+AHH1+ yers", fontsize=11.5,
         fontweight="bold", ha="left", va="center")
fig.text(*fig_xy(1010, 327), "EAST1", fontsize=9, fontweight="bold", ha="center", va="center")
fig.text(*fig_xy(1078, 334), "ipaH", fontsize=9, fontweight="bold", ha="center", va="center")
fig.text(*fig_xy(923, 438), "IAC-yers", fontsize=9, fontweight="bold", ha="center", va="center")
fig.text(*fig_xy(1131, 443), "AHH1", fontsize=9, fontweight="bold", ha="center", va="center")
mixed_text(848, 361, [("astA", "italic", "bold", 3), ("-positive", "normal", "normal", 3),
                      ("E. coli", "italic", "bold", 0)], 10)
ax_g.annotate("", xy=(60.6, 0.097), xytext=fig_xy(987, 373), textcoords="figure fraction",
              arrowprops=dict(arrowstyle="-", lw=0.8, color="black", shrinkA=0, shrinkB=0))
fig.text(*fig_xy(610, 400), "Fluorescence (-R' (T))", fontsize=9, fontweight="bold",
         rotation=90, ha="center", va="center")
fig.text(*fig_xy(943, 540), "Temperature (°C)", fontsize=9, fontweight="bold",
         ha="center", va="center")

fig.savefig("out.png", dpi=100)
